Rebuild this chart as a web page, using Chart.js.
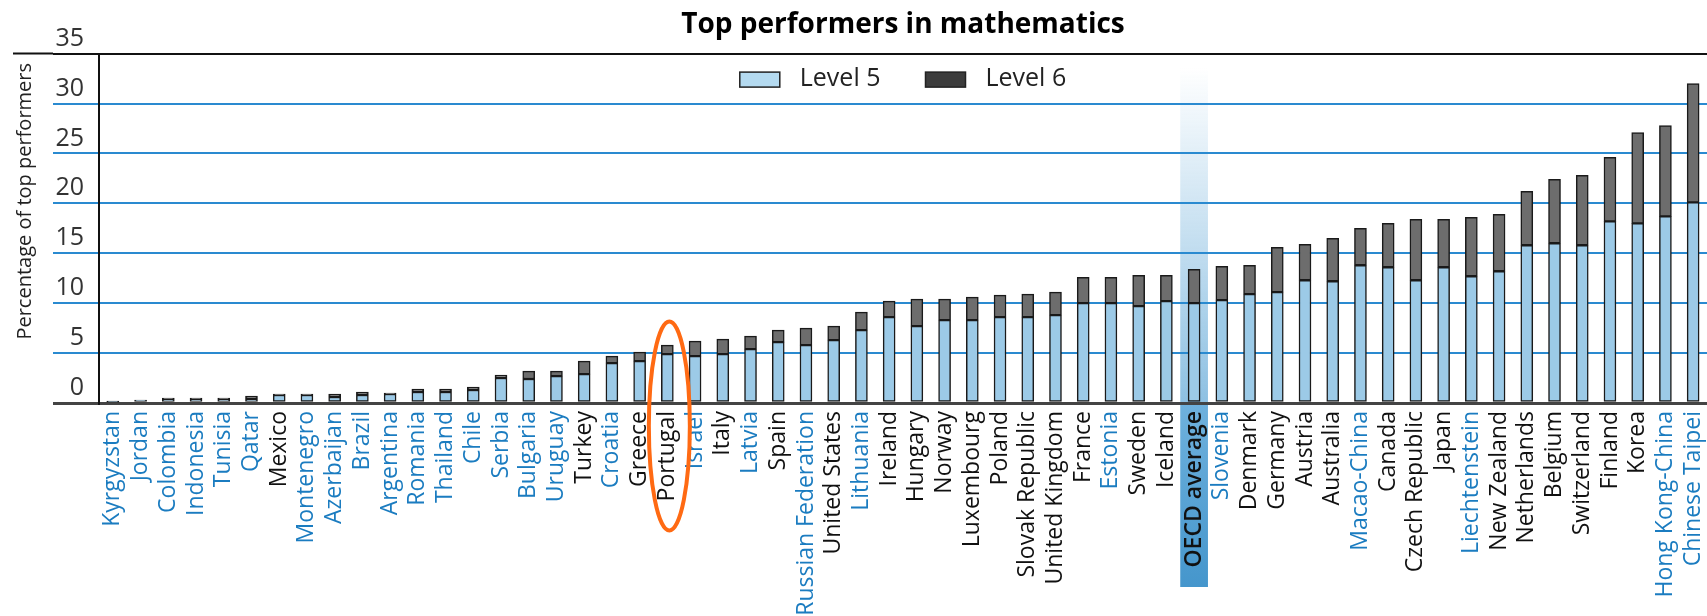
<!DOCTYPE html>
<html>
<head>
<meta charset="utf-8">
<title>Top performers in mathematics</title>
<script src="https://cdn.jsdelivr.net/npm/chart.js@4.4.1/dist/chart.umd.min.js"></script>
<style>
    html, body { margin: 0; padding: 0; background: #fff; }
</style>
</head>
<body>
<canvas id="grafico" width="1707" height="616"></canvas>
<script>
// ==========================================
// Top performers in mathematics (Level 5 / Level 6)
// ==========================================

const paises = [
    "Kyrgyzstan", "Jordan", "Colombia", "Indonesia", "Tunisia", "Qatar", "Mexico",
    "Montenegro", "Azerbaijan", "Brazil", "Argentina", "Romania", "Thailand", "Chile",
    "Serbia", "Bulgaria", "Uruguay", "Turkey", "Croatia", "Greece", "Portugal", "Israel",
    "Italy", "Latvia", "Spain", "Russian Federation", "United States", "Lithuania",
    "Ireland", "Hungary", "Norway", "Luxembourg", "Poland", "Slovak Republic",
    "United Kingdom", "France", "Estonia", "Sweden", "Iceland", "OECD average",
    "Slovenia", "Denmark", "Germany", "Austria", "Australia", "Macao-China", "Canada",
    "Czech Republic", "Japan", "Liechtenstein", "New Zealand", "Netherlands", "Belgium",
    "Switzerland", "Finland", "Korea", "Hong Kong-China", "Chinese Taipei"
];

const nivel5 = [
    0.1, 0.3, 0.4, 0.4, 0.4, 0.4, 0.8,
    0.8, 0.6, 0.8, 0.9, 1.1, 1.1, 1.3,
    2.5, 2.4, 2.7, 2.9, 4.0, 4.2, 4.9, 4.7,
    4.9, 5.4, 6.1, 5.8, 6.3, 7.3,
    8.6, 7.7, 8.3, 8.3, 8.6, 8.6,
    8.8, 10.0, 10.0, 9.7, 10.2, 10.0,
    10.3, 10.9, 11.1, 12.3, 12.2, 13.8, 13.6,
    12.3, 13.6, 12.7, 13.2, 15.8, 16.0,
    15.8, 18.2, 18.0, 18.7, 20.1
];

const nivel6 = [
    0.1, 0.0, 0.1, 0.1, 0.1, 0.3, 0.1,
    0.1, 0.3, 0.3, 0.1, 0.3, 0.3, 0.3,
    0.3, 0.8, 0.5, 1.3, 0.7, 0.9, 0.9, 1.5,
    1.5, 1.3, 1.2, 1.7, 1.4, 1.8,
    1.6, 2.7, 2.1, 2.3, 2.2, 2.3,
    2.3, 2.6, 2.6, 3.1, 2.6, 3.4,
    3.4, 2.9, 4.5, 3.6, 4.3, 3.7, 4.4,
    6.1, 4.8, 5.9, 5.7, 5.4, 6.4,
    7.0, 6.4, 9.1, 9.1, 11.9
];

// partner economies (blue labels)
const parceiros = [
    "Kyrgyzstan", "Jordan", "Colombia", "Indonesia", "Tunisia", "Qatar", "Montenegro",
    "Azerbaijan", "Brazil", "Argentina", "Romania", "Thailand", "Chile", "Serbia",
    "Bulgaria", "Uruguay", "Croatia", "Israel", "Latvia", "Russian Federation",
    "Lithuania", "Estonia", "Slovenia", "Macao-China", "Liechtenstein",
    "Hong Kong-China", "Chinese Taipei"
];

const rotulosY = [0, 5, 10, 15, 20, 25, 30, 35];
const mediaOCDE = "OECD average";
const destaque = "Portugal";

const FONTE = "'Open Sans', 'DejaVu Sans', sans-serif";
Chart.defaults.font.family = FONTE;

const AZUL_TEXTO = "#1b7cc0";
const AZUL_GRADE = "#2a8ad0";

// faixa da média OCDE, eixo Y, legenda e destaque de Portugal
const decoracao = {
    id: "decoracao",
    beforeDraw(chart) {
        const { ctx, chartArea, scales: { x } } = chart;
        const i = paises.indexOf(mediaOCDE);
        const cx = x.getPixelForValue(i);
        const w = x.width / paises.length;
        const topo = chartArea.top + 14;

        ctx.save();
        const g = ctx.createLinearGradient(0, topo, 0, chartArea.bottom);
        g.addColorStop(0, "rgba(141,192,226,0)");
        g.addColorStop(1, "rgba(141,192,226,1)");
        ctx.fillStyle = g;
        ctx.fillRect(cx - w / 2, topo, w, chartArea.bottom - topo);

        const g2 = ctx.createLinearGradient(0, chartArea.bottom, 0, chartArea.bottom + 184);
        g2.addColorStop(0, "#6fb1dd");
        g2.addColorStop(1, "#4596cc");
        ctx.fillStyle = g2;
        ctx.fillRect(cx - w / 2, chartArea.bottom, w, 184);
        ctx.restore();
    },
    afterDraw(chart) {
        const { ctx, chartArea, scales: { x } } = chart;
        ctx.save();

        // linha superior estendida
        ctx.strokeStyle = "#111";
        ctx.lineWidth = 2;
        ctx.beginPath();
        ctx.moveTo(13, chartArea.top);
        ctx.lineTo(chartArea.left - 46, chartArea.top);
        ctx.stroke();

        // título do eixo Y
        ctx.fillStyle = "#222";
        ctx.font = `20px ${FONTE}`;
        ctx.textAlign = "center";
        ctx.textBaseline = "middle";
        ctx.translate(25, (chartArea.top + chartArea.bottom) / 2 - 27);
        ctx.rotate(-Math.PI / 2);
        ctx.fillText("Percentage of top performers", 0, 0);
        ctx.setTransform(1, 0, 0, 1, 0, 0);

        // legenda
        ctx.font = `25px ${FONTE}`;
        ctx.textAlign = "left";
        const itens = chart.data.datasets.map(d => ({ texto: d.label, cor: d.corLegenda, larg: ctx.measureText(d.label).width }));
        const caixa = 40, folga = 20, entre = 45;
        const total = itens.reduce((s, it) => s + caixa + folga + it.larg, 0) + entre * (itens.length - 1);
        let lx = (chartArea.left + chartArea.right) / 2 - total / 2;
        const ly = chartArea.top + 26;
        itens.forEach(it => {
            ctx.fillStyle = it.cor;
            ctx.fillRect(lx, ly - 7.5, caixa, 15);
            ctx.strokeStyle = "#222";
            ctx.lineWidth = 1.5;
            ctx.strokeRect(lx, ly - 7.5, caixa, 15);
            ctx.fillStyle = "#222";
            ctx.fillText(it.texto, lx + caixa + folga, ly - 1);
            lx += caixa + folga + it.larg + entre;
        });

        // destaque Portugal
        const px = x.getPixelForValue(paises.indexOf(destaque)) + 2;
        ctx.strokeStyle = "#ff6a13";
        ctx.lineWidth = 4;
        ctx.beginPath();
        ctx.ellipse(px, chartArea.bottom + 23, 20.5, 104.5, 0, 0, Math.PI * 2);
        ctx.stroke();

        ctx.restore();
    }
};

const corGrade = v => v === rotulosY[rotulosY.length - 1] ? "#111" : v === 0 ? "#444" : AZUL_GRADE;

new Chart(document.getElementById("grafico"), {
    type: "bar",
    data: {
        labels: paises,
        datasets: [
            {
                label: "Level 5",
                data: nivel5,
                backgroundColor: "#9ccae7",
                corLegenda: "#b4daf0",
                borderColor: "#1a1a1a",
                borderWidth: 1.5,
                borderSkipped: false,
                barThickness: 12
            },
            {
                label: "Level 6",
                data: nivel6,
                backgroundColor: "#6d6d6d",
                corLegenda: "#3c3c3c",
                borderColor: "#1a1a1a",
                borderWidth: 1.5,
                borderSkipped: false,
                barThickness: 12
            }
        ]
    },
    options: {
        responsive: false,
        animation: false,
        devicePixelRatio: 1,
        layout: { padding: 0 },
        plugins: {
            legend: { display: false },
            tooltip: { enabled: false },
            title: {
                display: true,
                text: "Top performers in mathematics",
                fullSize: false,
                color: "#000",
                font: { size: 28, weight: "bold" },
                padding: { top: 8, bottom: 12 }
            }
        },
        scales: {
            x: {
                stacked: true,
                grid: { display: false, drawTicks: false },
                border: { display: false },
                ticks: {
                    autoSkip: false,
                    minRotation: 90,
                    maxRotation: 90,
                    padding: 8,
                    font: c => ({ size: 23, weight: paises[c.index] === mediaOCDE ? "600" : "normal" }),
                    color: c => parceiros.includes(paises[c.index]) ? AZUL_TEXTO : "#111"
                },
                afterFit: s => {
                    s.height = 213;
                    s.paddingLeft = 0;
                    s.paddingRight = 0;
                }
            },
            y: {
                stacked: true,
                min: rotulosY[0],
                max: rotulosY[rotulosY.length - 1],
                afterBuildTicks: s => { s.ticks = rotulosY.map(v => ({ value: v })); },
                ticks: {
                    padding: -31,
                    labelOffset: -15,
                    color: "#333",
                    font: { size: 25 }
                },
                grid: {
                    tickLength: 46,
                    color: c => corGrade(c.tick.value),
                    tickColor: c => corGrade(c.tick.value),
                    lineWidth: c => c.tick.value === 0 ? 3 : 2
                },
                border: { display: true, color: "#111", width: 2 },
                afterFit: s => { s.width = 99; }
            }
        }
    },
    plugins: [decoracao]
});
</script>
</body>
</html>
